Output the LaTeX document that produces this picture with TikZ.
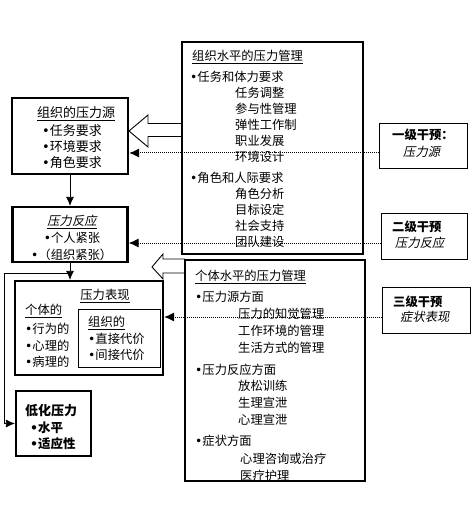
\documentclass[tikz,border=0pt]{standalone}
\usepackage{fontspec}
\setmainfont{Noto Sans CJK SC}
\newfontfamily\slantcjk[FakeSlant=0.2]{Noto Sans CJK SC}
\newfontfamily\dotfont{DejaVu Sans}
\newcommand{\dotmark}{{\dotfont •}}
\usetikzlibrary{arrows.meta}

\begin{document}
\begin{tikzpicture}[x=1pt,y=-1pt,
    heavybox/.style={draw, line width=2.2pt, inner sep=0pt},
    mgmtbox/.style={draw, line width=1.8pt, inner sep=0pt},
    levelbox/.style={draw, line width=0.9pt, inner sep=0pt},
    txt/.style={anchor=west, inner sep=0pt, font=\fontsize{12.3}{14}\selectfont},
    ctxt/.style={inner sep=0pt, font=\fontsize{12.3}{14}\selectfont},
    hollow/.style={draw, line width=0.9pt, fill=white},
    flow/.style={-{Latex[length=9pt,width=8pt]}, line width=0.8pt},
    dotflow/.style={-{Latex[length=10pt,width=9pt]}, line width=1pt, densely dotted}
  ]
  \useasboundingbox (0,0) rectangle (472,510);

  % Hollow arrows
  \draw[hollow] (182,123.5) -- (148,123.5) -- (148,115) -- (129,131)
    -- (148,147) -- (148,136.5) -- (182,136.5);
  \draw[hollow] (185,259) -- (163,259) -- (163,254) -- (152,267)
    -- (163,279) -- (163,273) -- (185,273);

  % Boxes
  \node[mgmtbox, minimum width=181pt, minimum height=212pt] (orgmgmt) at (272.5,148) {};
  \node[mgmtbox, minimum width=180pt, minimum height=221pt] (indmgmt) at (275,370.5) {};
  \node[heavybox, minimum width=116pt, minimum height=76pt] (source) at (70,136) {};
  \node[heavybox, minimum width=115pt, minimum height=55pt] (react) at (70,234.5) {};
  \node[heavybox, minimum width=148pt, minimum height=94pt] (symptom) at (89,328) {};
  \node[levelbox, minimum width=82pt, minimum height=58pt] (orgcost) at (119,338) {};
  \node[heavybox, minimum width=75pt, minimum height=65pt] (reduce) at (53.5,423.5) {};
  \node[levelbox, minimum width=88pt, minimum height=45pt] (lvlone) at (423,145.5) {};
  \node[levelbox, minimum width=86pt, minimum height=46pt] (lvltwo) at (424,236) {};
  \node[levelbox, minimum width=88pt, minimum height=46pt] (lvlthree) at (426,310) {};

  % Organisational management
  \node[txt] (orgtitle) at (192,57) {\underline{组织水平的压力管理}};
  \node[txt] (task) at (190,77) {\dotmark 任务和体力要求};
  \foreach \t/\y in {任务调整/93, 参与性管理/109, 弹性工作制/125, 职业发展/141, 环境设计/157}
    \node[txt] at (235,\y) {\t};
  \node[txt] (role) at (190,178) {\dotmark 角色和人际要求};
  \foreach \t/\y in {角色分析/194, 目标设定/210, 社会支持/226, 团队建设/242}
    \node[txt] at (235,\y) {\t};

  % Individual management
  \node[txt] (indtitle) at (195,277) {\underline{个体水平的压力管理}};
  \node[txt] (srcaspect) at (195,297) {\dotmark 压力源方面};
  \foreach \t/\y in {压力的知觉管理/314, 工作环境的管理/331, 生活方式的管理/348}
    \node[txt] at (238,\y) {\t};
  \node[txt] (reactaspect) at (195,370) {\dotmark 压力反应方面};
  \foreach \t/\y in {放松训练/386, 生理宣泄/403, 心理宣泄/420}
    \node[txt] at (238,\y) {\t};
  \node[txt] (symaspect) at (195,441) {\dotmark 症状方面};
  \foreach \t/\y in {心理咨询或治疗/459, 医疗护理/476}
    \node[txt] at (240,\y) {\t};

  % Stress sources
  \node[ctxt, font=\fontsize{13}{14}\selectfont] (srctitle) at (76,114) {\underline{组织的压力源}};
  \node[ctxt, font=\fontsize{13}{14}\selectfont] at (72,131) {\dotmark 任务要求};
  \node[ctxt, font=\fontsize{13}{14}\selectfont] at (72,147) {\dotmark 环境要求};
  \node[ctxt, font=\fontsize{13}{14}\selectfont] at (72,163) {\dotmark 角色要求};

  % Stress reaction
  \node[ctxt] (reacttitle) at (72,222) {\underline{\slantcjk 压力反应}};
  \node[ctxt] at (72,238) {\dotmark 个人紧张};
  \node[txt] at (31,255) {\dotmark （组织紧张）};

  % Stress symptoms
  \node[ctxt] (symtitle) at (105,296) {\underline{压力表现}};
  \node[txt] at (25,311) {\underline{个体的}};
  \node[txt] at (25,329) {\dotmark 行为的};
  \node[txt] at (25,346) {\dotmark 心理的};
  \node[txt] at (25,362) {\dotmark 病理的};
  \node[txt] at (88,323) {\underline{组织的}};
  \node[txt] at (88,339) {\dotmark 直接代价};
  \node[txt] at (88,355) {\dotmark 间接代价};

  % Reduced stress
  \node[txt, font=\fontsize{13}{14}\selectfont\bfseries] at (25,411) {低化压力};
  \node[txt, font=\fontsize{12.5}{14}\selectfont\bfseries] at (30,428) {\dotmark 水平};
  \node[txt, font=\fontsize{12.5}{14}\selectfont\bfseries] at (30,444) {\dotmark 适应性};

  % Intervention levels
  \node[txt, font=\fontsize{12.3}{14}\selectfont\bfseries] at (392,135) {一级干预：};
  \node[txt] at (403,152) {\slantcjk 压力源};
  \node[txt, font=\fontsize{12.3}{14}\selectfont\bfseries] at (392,227) {二级干预};
  \node[txt] at (395,243) {\slantcjk 压力反应};
  \node[txt, font=\fontsize{12.3}{14}\selectfont\bfseries] at (393,302) {三级干预};
  \node[txt] at (400,317) {\slantcjk 症状表现};

  % Flow arrows
  \draw[flow] (source.south) -- (react.north);
  \draw[flow] (react.south) -- (react.south |- symptom.north);
  \coordinate (branch) at (70,273);
  \draw[flow] (branch) -- ++(-66,0) |- (reduce.west);

  % Intervention arrows
  \draw[dotflow] ([yshift=-7.5pt]lvlone.west) -- ([yshift=-7.5pt]lvlone.west -| source.east);
  \draw[dotflow] ([yshift=-7pt]lvltwo.west) -- ([yshift=-7pt]lvltwo.west -| react.east);
  \draw[dotflow] ([yshift=-7pt]lvlthree.west) -- ([yshift=-7pt]lvlthree.west -| symptom.east);
\end{tikzpicture}
\end{document}
